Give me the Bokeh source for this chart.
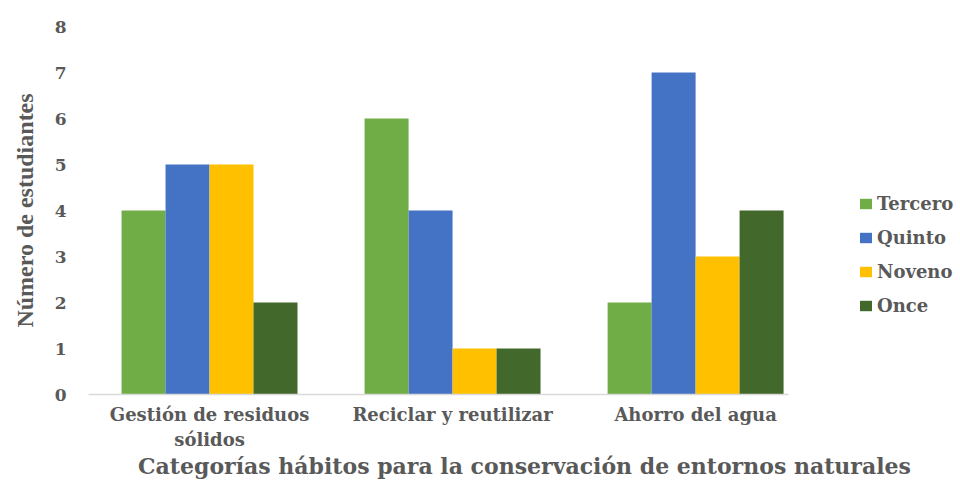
from bokeh.plotting import figure
from bokeh.models import ColumnDataSource, Range1d, FixedTicker, Legend, LegendItem
from bokeh.transform import dodge
from bokeh.embed import file_html
from bokeh.resources import INLINE

categories = ["Gestión de residuos\nsólidos", "Reciclar y reutilizar", "Ahorro del agua"]
series = ["Tercero", "Quinto", "Noveno", "Once"]
tercero = [4, 6, 2]
quinto = [5, 4, 7]
noveno = [5, 1, 3]
once = [2, 1, 4]
y_ticks = [0, 1, 2, 3, 4, 5, 6, 7, 8]
colors = ["#70AD47", "#4472C4", "#FFC000", "#43682B"]

xs = [i + 0.5 for i in range(len(categories))]
source = ColumnDataSource(dict(x=xs, Tercero=tercero, Quinto=quinto, Noveno=noveno, Once=once))

p = figure(width=960, height=481, output_backend="svg", toolbar_location=None,
           x_range=Range1d(0.002, 3.59), y_range=Range1d(0, 8),
           min_border_left=88, min_border_right=0, min_border_top=26, min_border_bottom=85)
p.outline_line_color = None
p.background_fill_color = "white"
p.border_fill_color = "white"
p.xgrid.visible = False
p.ygrid.visible = False

w = 0.181
offsets = [-1.5 * w, -0.5 * w, 0.5 * w, 1.5 * w]
items = []
for s, c, off in zip(series, colors, offsets):
    r = p.vbar(x=dodge("x", off, range=p.x_range), top=s, width=w, source=source,
               fill_color=c, line_color=None)
    items.append(LegendItem(label=s, renderers=[r]))

TXT = "#595959"
# y axis
p.yaxis.ticker = FixedTicker(ticks=y_ticks)
p.yaxis.axis_line_color = None
p.yaxis.major_tick_line_color = None
p.yaxis.minor_tick_line_color = None
p.yaxis.major_label_text_font = "DejaVu Serif"
p.yaxis.major_label_text_font_style = "bold"
p.yaxis.major_label_text_font_size = "17px"
p.yaxis.major_label_text_color = TXT
p.yaxis.major_label_standoff = 16
p.yaxis.axis_label = "Número de estudiantes"
p.yaxis.axis_label_text_font = "Liberation Serif"
p.yaxis.axis_label_text_font_style = "bold"
p.yaxis.axis_label_text_font_size = "24px"
p.yaxis.axis_label_text_color = TXT
p.yaxis.axis_label_standoff = 14

# x axis
p.xaxis.ticker = FixedTicker(ticks=xs)
p.xaxis.bounds = (0.002, 2.883)
p.xaxis.major_label_overrides = {x: c for x, c in zip(xs, categories)}
p.xaxis.axis_line_color = "#D9D9D9"
p.xaxis.axis_line_width = 1.5
p.xaxis.major_tick_line_color = None
p.xaxis.minor_tick_line_color = None
p.xaxis.major_label_text_font = "DejaVu Serif"
p.xaxis.major_label_text_font_style = "bold"
p.xaxis.major_label_text_font_size = "18px"
p.xaxis.major_label_text_color = TXT
p.xaxis.major_label_standoff = 3
p.xaxis.axis_label = "Categorías hábitos para la conservación de entornos naturales"
p.xaxis.axis_label_text_font = "DejaVu Serif"
p.xaxis.axis_label_text_font_style = "bold"
p.xaxis.axis_label_text_font_size = "22px"
p.xaxis.axis_label_text_color = TXT
p.xaxis.axis_label_standoff = 0

legend = Legend(items=items, location=(770, 78), orientation="vertical")
legend.background_fill_alpha = 0
legend.border_line_color = None
legend.margin = 0
legend.padding = 0
legend.glyph_width = 15
legend.glyph_height = 13
legend.label_height = 20
legend.spacing = 13
legend.label_standoff = 4
legend.label_text_font = "DejaVu Serif"
legend.label_text_font_style = "bold"
legend.label_text_font_size = "18px"
legend.label_text_color = TXT
p.add_layout(legend, "center")

open("out.html", "w").write(file_html(p, INLINE))
